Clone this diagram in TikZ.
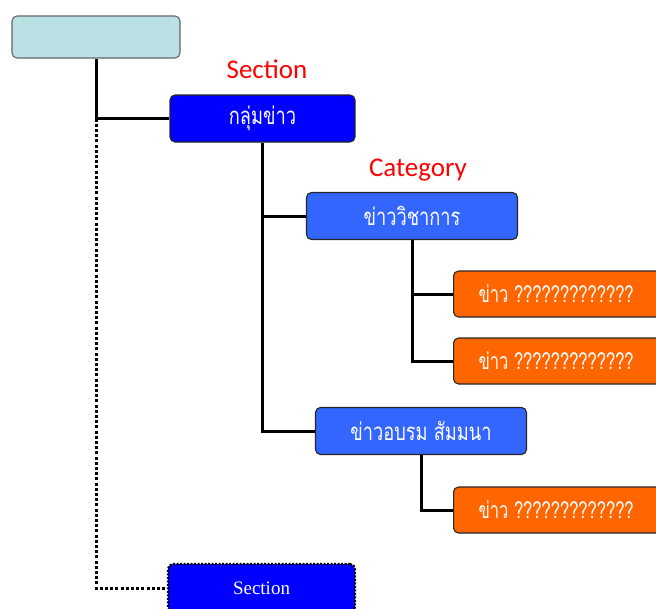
\documentclass[tikz,border=0pt]{standalone}
\usepackage{graphicx}
\usepackage{fontspec}
\newfontfamily\thaifont[Script=Thai]{Loma}
\newfontfamily\labfont{Carlito}
\newfontfamily\serfont{Liberation Serif}
\newcommand{\thx}[1]{\scalebox{0.76}[1]{#1}}
\newcommand{\thn}[1]{\scalebox{0.72}[1]{#1}}
\begin{document}
\begin{tikzpicture}[x=1pt,y=-1pt,
  box/.style={rectangle,rounded corners=5pt,draw=black!85,line width=1.1pt,inner sep=0pt,text=white},
  rootbox/.style={box,fill=rootcol,draw=black!60,minimum width=168pt,minimum height=42pt},
  secbox/.style={box,fill=seccol,minimum width=185pt,minimum height=47pt,font=\thaifont\fontsize{24}{26}\selectfont},
  catbox/.style={box,fill=catcol,minimum width=211pt,minimum height=47pt,font=\thaifont\fontsize{24}{26}\selectfont},
  newsbox/.style={box,fill=newscol,minimum width=220pt,minimum height=46pt,text width=210pt,align=left,font=\thaifont\fontsize{23}{26}\selectfont},
  lab/.style={text=red,font=\labfont\fontsize{27}{30}\selectfont},
  link/.style={line width=3pt,black},
  dotlink/.style={line width=3pt,black,dash pattern=on 3pt off 2.2pt}]
\definecolor{rootcol}{HTML}{B9E0E3}
\definecolor{seccol}{HTML}{0000FF}
\definecolor{catcol}{HTML}{3366FF}
\definecolor{newscol}{HTML}{FF6600}
\useasboundingbox (0,0) rectangle (656,608);
\clip (0,0) rectangle (656,608);
\fill[white] (0,0) rectangle (656,608);

\node[rootbox] (root) at (96,37) {};
\node[secbox] (sec1) at (262.5,118.5) {\thx{กลุ่มข่าว}};
\node[catbox] (cat1) at (412,216) {\thx{ข่าววิชาการ}};
\node[catbox] (cat2) at (421,431) {\thx{ข่าวอบรม สัมมนา}};
\node[newsbox,anchor=west] (n1) at (453,294) {\hspace*{20pt}\thn{ข่าว ?????????????}};
\node[newsbox,anchor=west] (n2) at (453,361) {\hspace*{20pt}\thn{ข่าว ?????????????}};
\node[newsbox,anchor=west] (n3) at (453,510) {\hspace*{20pt}\thn{ข่าว ?????????????}};
\node[box,fill=seccol,draw=black,dash pattern=on 2pt off 1.5pt,line width=2.2pt,minimum width=187pt,minimum height=48pt] (sec2) at (261.5,588) {};
\node[text=white,font=\serfont\fontsize{19}{22}\selectfont] (sec2t) at (sec2.center) {Section};

\node[lab] (l1) at (267,69) {Section};
\node[lab] (l2) at (418,170) {Category};

\coordinate (j1) at (root.south |- sec1.west);
\draw[dotlink] (j1) |- (sec2.west);
\draw[link] (root.south) |- (sec1.west);
\draw[link] (sec1.south) |- (cat1.west);
\draw[link] (sec1.south) |- (cat2.west);
\draw[link] (cat1.south) |- (n1.west);
\draw[link] (cat1.south) |- (n2.west);
\draw[link] (cat2.south) |- (n3.west);
\end{tikzpicture}
\end{document}
